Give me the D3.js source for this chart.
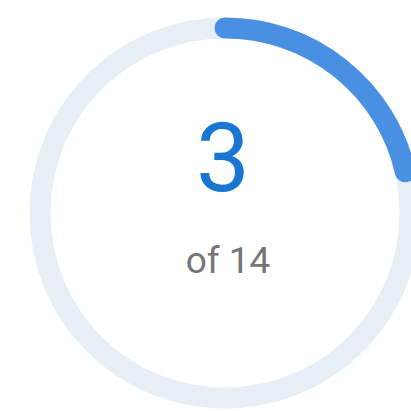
<!DOCTYPE html>
<html><head><meta charset="utf-8">
<script src="https://cdn.jsdelivr.net/npm/d3@7"></script>
<style>html,body{margin:0;padding:0;background:#fff;}svg{display:block;}</style>
</head><body>
<svg id="c" width="411" height="411"></svg>
<script>
const current = 3;
const total = 14;
const labels = ["3", "of 14"];

const svg = d3.select("#c");
const cx = 225, cy = 213, r = 185, sw = 21;
const g = svg.append("g").attr("transform", `translate(${cx},${cy})`);
const scale = d3.scaleLinear().domain([0, total]).range([-Math.PI / 2, 1.5 * Math.PI]);

g.append("circle").attr("r", r).attr("fill", "none")
  .attr("stroke", "#e8eef6").attr("stroke-width", sw);

const p = d3.path();
p.arc(0, 0, r, scale(0), scale(current));
g.append("path").attr("d", p.toString()).attr("fill", "none")
  .attr("stroke", "#4a90e2").attr("stroke-width", sw).attr("stroke-linecap", "round");

g.append("text").text(labels[0]).attr("x", -2).attr("y", -22)
  .attr("text-anchor", "middle").attr("font-family", "Roboto").attr("font-size", 96)
  .attr("fill", "#1976d2");
g.append("text").text(labels[1]).attr("x", 3).attr("y", 60)
  .attr("text-anchor", "middle").attr("font-family", "Roboto").attr("font-size", 37)
  .attr("fill", "#757575");
</script>
</body></html>
